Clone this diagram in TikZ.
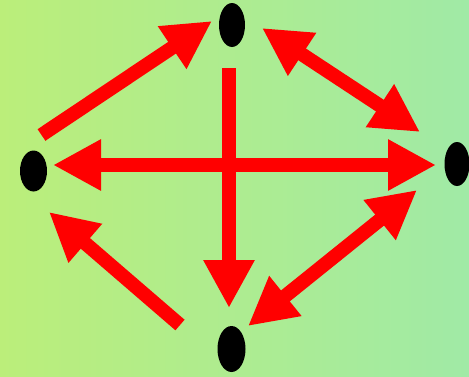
\documentclass[tikz,border=0pt]{standalone}
\usetikzlibrary{arrows.meta,shapes.geometric}
\definecolor{bgleft}{RGB}{187,238,122}
\definecolor{bgright}{RGB}{160,234,166}
\definecolor{arrred}{RGB}{255,0,0}
\begin{document}
\begin{tikzpicture}[x=1pt,y=-1pt,
  dot/.style={ellipse,fill=black,inner sep=0pt,draw=none},
  bigarrow/.style={draw=arrred,line width=14pt,line cap=butt,
    -{Triangle[length=48pt,width=48pt]}},
  bigdouble/.style={draw=arrred,line width=14pt,line cap=butt,
    {Triangle[length=48pt,width=48pt]}-{Triangle[length=48pt,width=48pt]}}]
\shade[left color=bgleft,right color=bgright] (0,0) rectangle (469,376);
\useasboundingbox (0,0) rectangle (469,376);
% nodes
\node[dot,minimum width=26pt,minimum height=44pt] (top) at (232,25) {};
\node[dot,minimum width=27pt,minimum height=41pt] (left) at (33.5,171) {};
\node[dot,minimum width=25pt,minimum height=44pt] (right) at (457,164) {};
\node[dot,minimum width=28pt,minimum height=46pt] (bottom) at (231.5,349) {};
% arrow ends
\coordinate (a1s) at (41.5,135);
\coordinate (a1e) at (212,21);
\coordinate (a2s) at (262,28);
\coordinate (a2e) at (420,132);
\coordinate (a3s) at (53,165);
\coordinate (a3e) at (436,165);
\coordinate (a4s) at (229,68);
\coordinate (a4e) at (229,308);
\coordinate (a5s) at (248,326);
\coordinate (a5e) at (417,190);
\coordinate (a6s) at (180,325);
\coordinate (a6e) at (49,212);
% arrows
\draw[bigarrow] (a1s) -- (a1e);
\draw[bigdouble] (a2s) -- (a2e);
\draw[bigdouble] (a3s) -- (a3e);
\draw[bigarrow] (a4s) -- (a4e);
\draw[bigdouble] (a5s) -- (a5e);
\draw[bigarrow] (a6s) -- (a6e);
\end{tikzpicture}
\end{document}
